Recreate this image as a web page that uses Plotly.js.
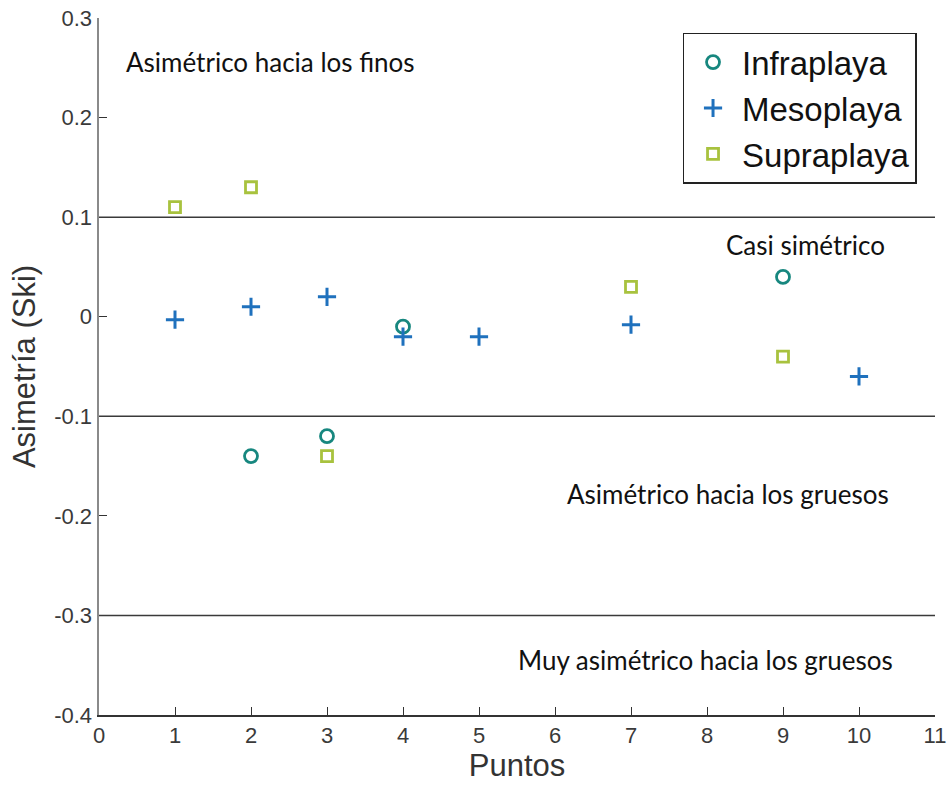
<!DOCTYPE html>
<html>
<head>
<meta charset="utf-8">
<script src="https://cdn.plot.ly/plotly-3.0.1.min.js"></script>
<style>html,body{margin:0;padding:0;background:#fff;}#chart{width:949px;height:794px;}</style>
</head>
<body>
<div id="chart"></div>
<script>
const seriesNames = ["Infraplaya", "Mesoplaya", "Supraplaya"];
const infraX = [2, 3, 4, 9];
const infraY = [-0.14, -0.12, -0.01, 0.04];
const mesoX = [1, 2, 3, 4, 5, 7, 10];
const mesoY = [-0.003, 0.01, 0.02, -0.02, -0.02, -0.008, -0.06];
const supraX = [1, 2, 3, 7, 9];
const supraY = [0.11, 0.13, -0.14, 0.03, -0.04];
const xTicks = [0, 1, 2, 3, 4, 5, 6, 7, 8, 9, 10, 11];
const yTicks = [-0.4, -0.3, -0.2, -0.1, 0, 0.1, 0.2, 0.3];
const yTickLabels = ["-0.4", "-0.3", "-0.2", "-0.1", "0", "0.1", "0.2", "0.3"];
const boundaries = [0.1, -0.1, -0.3];

const traces = [
  {x: infraX, y: infraY, name: seriesNames[0], type: "scatter", mode: "markers",
   marker: {symbol: "circle-open", size: 13, color: "#17877f", line: {width: 2.8, color: "#17877f"}}},
  {x: mesoX, y: mesoY, name: seriesNames[1], type: "scatter", mode: "markers",
   marker: {symbol: "cross-thin-open", size: 13, color: "#1f71bd", line: {width: 3, color: "#1f71bd"}}},
  {x: supraX, y: supraY, name: seriesNames[2], type: "scatter", mode: "markers",
   marker: {symbol: "square-open", size: 11, color: "#a8c23e", line: {width: 2.8, color: "#a8c23e"}}}
];

const shapes = boundaries.map(v => ({
  type: "line", xref: "paper", x0: 0, x1: 1, yref: "y", y0: v, y1: v,
  line: {color: "#3a3a3a", width: 1.5}
}));

const sans = "Arial, 'Liberation Sans', sans-serif";
const tickFont = {family: sans, size: 22, color: "#3a3a3a"};
const annFont = {family: "Lato, 'Open Sans', sans-serif", size: 26, color: "#111"};
const layout = {
  width: 949, height: 794,
  font: {family: sans, size: 22, color: "#3a3a3a"},
  margin: {l: 99, r: 14, t: 18, b: 79},
  paper_bgcolor: "#fff", plot_bgcolor: "#fff",
  showlegend: true,
  legend: {x: 0.698, y: 0.979, xanchor: "left", yanchor: "top",
    bgcolor: "#fff", bordercolor: "#222", borderwidth: 1.5,
    font: {family: sans, size: 33, color: "#111"},
    tracegroupgap: 0, itemwidth: 48},
  xaxis: {range: [0, 11], tickvals: xTicks, ticktext: xTicks.map(String),
    tickmode: "array",
    showgrid: false, zeroline: false, showline: true, linecolor: "#333", linewidth: 1.5,
    ticks: "inside", ticklen: 8, tickcolor: "#333", tickwidth: 1,
    tickfont: tickFont,
    title: {text: "Puntos", font: {family: sans, size: 31, color: "#333"}, standoff: 6}},
  yaxis: {range: [-0.4, 0.3], tickvals: yTicks, ticktext: yTickLabels,
    tickmode: "array",
    showgrid: false, zeroline: false, showline: true, linecolor: "#8a8a8a", linewidth: 2.5,
    ticks: "inside", ticklen: 8, tickcolor: "#333", tickwidth: 1,
    tickfont: tickFont,
    title: {text: "Asimetría (Ski)", font: {family: sans, size: 31, color: "#333"}, standoff: 10}},
  shapes: shapes,
  annotations: [
    {x: 2.26, y: 0.256, xref: "x", yref: "y", text: "Asimétrico hacia los finos", showarrow: false, font: annFont},
    {x: 9.29, y: 0.072, xref: "x", yref: "y", text: "Casi simétrico", showarrow: false, font: annFont},
    {x: 8.28, y: -0.178, xref: "x", yref: "y", text: "Asimétrico hacia los gruesos", showarrow: false, font: annFont},
    {x: 7.98, y: -0.345, xref: "x", yref: "y", text: "Muy asimétrico hacia los gruesos", showarrow: false, font: annFont}
  ]
};

Plotly.newPlot("chart", traces, layout, {displayModeBar: false, staticPlot: true});
</script>
</body>
</html>
